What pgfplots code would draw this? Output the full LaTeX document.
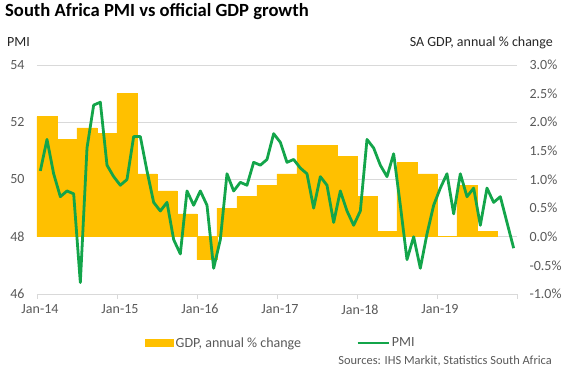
\documentclass[border=0pt]{standalone}
\usepackage{pgfplots}
\pgfplotsset{compat=1.18}
\usepackage{pgfplotstable}
\usepackage{fontspec}
\setmainfont{Carlito}
\definecolor{gold}{HTML}{FFC000}
\definecolor{pmigreen}{HTML}{13A54A}
\definecolor{ticktext}{HTML}{595959}
\definecolor{gridc}{HTML}{D9D9D9}

% GDP, annual % change, quarterly (x = middle of quarter, months since Jan-14)
\pgfplotstableread{
x gdp
1.5 2.1
4.5 1.7
7.5 1.9
10.5 1.8
13.5 2.5
16.5 1.1
19.5 0.8
22.5 0.4
25.5 -0.4
28.5 0.5
31.5 0.7
34.5 0.9
37.5 1.1
40.5 1.6
43.5 1.6
46.5 1.4
49.5 0.7
52.5 0.1
55.5 1.3
58.5 1.1
61.5 0.0
64.5 0.9
67.5 0.1
}\gdptable

% PMI, monthly (x = middle of month, months since Jan-14)
\pgfplotstableread{
x pmi
0.5 50.3
1.5 51.4
2.5 50.2
3.5 49.4
4.5 49.6
5.5 49.5
6.5 46.4
7.5 51.1
8.5 52.6
9.5 52.7
10.5 50.5
11.5 50.1
12.5 49.8
13.5 50.0
14.5 51.5
15.5 51.5
16.5 50.3
17.5 49.2
18.5 48.9
19.5 49.2
20.5 47.9
21.5 47.4
22.5 49.6
23.5 49.1
24.5 49.6
25.5 49.1
26.5 46.9
27.5 47.9
28.5 50.2
29.5 49.6
30.5 49.9
31.5 49.8
32.5 50.6
33.5 50.5
34.5 50.7
35.5 51.6
36.5 51.3
37.5 50.6
38.5 50.7
39.5 50.4
40.5 50.2
41.5 49.0
42.5 50.1
43.5 49.8
44.5 48.5
45.5 49.6
46.5 48.9
47.5 48.4
48.5 48.9
49.5 51.4
50.5 51.1
51.5 50.5
52.5 50.1
53.5 50.9
54.5 49.1
55.5 47.2
56.5 48.0
57.5 46.9
58.5 48.1
59.5 49.1
60.5 49.7
61.5 50.2
62.5 48.8
63.5 50.2
64.5 49.4
65.5 49.7
66.5 48.4
67.5 49.7
68.5 49.2
69.5 49.4
70.5 48.5
71.5 47.6
}\pmitable

\begin{document}
\begin{tikzpicture}
\useasboundingbox (0,0) rectangle (574pt,369pt);

% Right axis: GDP bars and gridlines
\begin{axis}[
  at={(37pt,75pt)}, anchor=south west,
  scale only axis, width=480pt, height=229pt,
  xmin=0, xmax=72, ymin=-1, ymax=3,
  axis x line=none,
  axis y line*=right,
  y axis line style={draw=none},
  ytick={-1,-0.5,0,0.5,1,1.5,2,2.5,3},
  yticklabels={-1.0\%,-0.5\%,0.0\%,0.5\%,1.0\%,1.5\%,2.0\%,2.5\%,3.0\%},
  ytick style={draw=none},
  major tick length=0pt,
  yticklabel style={font=\fontsize{14}{16}\selectfont, text=ticktext, anchor=west, xshift=9pt},
  extra y ticks={0,1,2,3},
  extra y tick labels={},
  extra y tick style={grid=major, major grid style={draw=gridc, line width=0.9pt}},
]
\addplot[ybar, bar width=3, fill=gold, draw=gold, line width=0.5pt] table[x=x, y=gdp]{\gdptable};
\end{axis}

% Left axis: PMI line
\begin{axis}[
  at={(37pt,75pt)}, anchor=south west,
  scale only axis, width=480pt, height=229pt,
  xmin=0, xmax=72, ymin=46, ymax=54,
  axis x line*=bottom,
  axis y line*=left,
  y axis line style={draw=none},
  x axis line style={draw=gridc, line width=0.9pt, -},
  xtick={0,12,24,36,48,60,72},
  xticklabels={Jan-14,Jan-15,Jan-16,Jan-17,Jan-18,Jan-19,},
  xtick style={draw=gridc, line width=0.9pt},
  tick align=outside,
  major tick length=5pt,
  xticklabel style={font=\fontsize{14}{16}\selectfont, text=ticktext, xshift=3pt, yshift=-2pt},
  ytick={46,48,50,52,54},
  yticklabels={46,48,50,52,54},
  ytick style={draw=none},
  yticklabel style={font=\fontsize{14}{16}\selectfont, text=ticktext, xshift=-4pt},
  legend style={at={(0.219,-0.214)}, anchor=west, draw=none, fill=none,
    legend columns=2, font=\fontsize{14}{16}\selectfont, text=ticktext,
    /tikz/every even column/.append style={column sep=53pt}},
]
\addlegendimage{legend image code/.code={\fill[gold] (0pt,-3.5pt) rectangle (28pt,3.5pt);}}
\addlegendentry{GDP, annual \% change}
\addplot[pmigreen, line width=2.8pt, line join=round, mark=none,
  legend image code/.code={\draw[pmigreen, line width=2.8pt] (0pt,0pt) -- (31pt,0pt);}]
  table[x=x, y=pmi]{\pmitable};
\addlegendentry{PMI}
\end{axis}

\node[anchor=base west, inner sep=0pt, font=\fontsize{18.6}{22}\selectfont\bfseries] at (5pt,352pt) {South Africa PMI vs official GDP growth};
\node[anchor=base west, inner sep=0pt, font=\fontsize{14}{16}\selectfont, text=black!85] at (7pt,322.5pt) {PMI};
\node[anchor=base east, inner sep=0pt, font=\fontsize{14}{16}\selectfont, text=black!85] at (553pt,322.5pt) {SA GDP, annual \% change};
\node[anchor=base east, inner sep=0pt, font=\fontsize{12.4}{14}\selectfont, text=ticktext] at (552pt,4pt) {Sources: IHS Markit, Statistics South Africa};
\end{tikzpicture}
\end{document}
